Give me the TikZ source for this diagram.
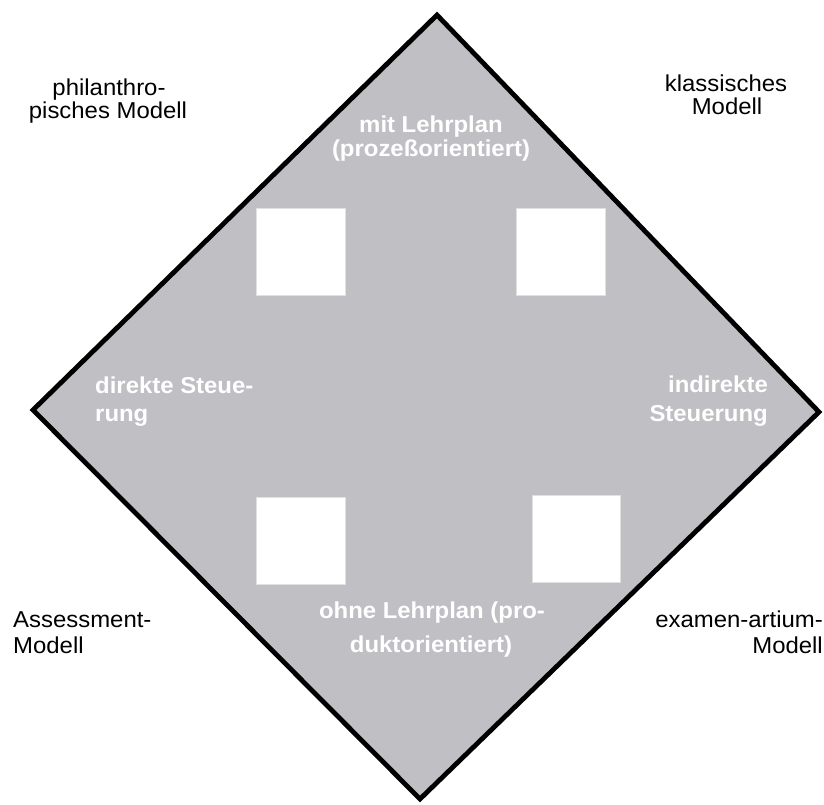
\documentclass[tikz,border=0pt]{standalone}
\usepackage{fontspec}
\setmainfont{Liberation Sans}[FakeStretch=1.04]
\definecolor{dgray}{RGB}{192,191,196}
\begin{document}
\begin{tikzpicture}[x=1pt,y=-1pt,
  lbl/.style={inner sep=0pt,font=\fontsize{23}{26}\selectfont,text=black},
  wlbl/.style={inner sep=0pt,font=\fontsize{23}{26}\selectfont\bfseries,text=white},
  sq/.style={fill=white,draw=white!88!black,line width=0.6pt}]
\useasboundingbox (0,0) rectangle (824,805);
% diamond
\coordinate (T) at (437,15);
\coordinate (L) at (33,410);
\coordinate (R) at (819,412);
\coordinate (B) at (420,799);
\draw[fill=dgray,line width=4.8pt,line join=miter] (T) -- (R) -- (B) -- (L) -- cycle;
% white squares
\node[sq,minimum width=89pt,minimum height=87pt,inner sep=0pt] (s1) at (300.5,251.5) {};
\node[sq,minimum width=89pt,minimum height=87pt,inner sep=0pt] (s2) at (560.5,251.5) {};
\node[sq,minimum width=89pt,minimum height=87pt,inner sep=0pt] (s3) at (300.5,540.5) {};
\node[sq,minimum width=88pt,minimum height=87pt,inner sep=0pt] (s4) at (576,538.5) {};
% outer labels
\node[lbl,anchor=base] (ph1) at (109,96) {philanthro-};
\node[lbl,anchor=base] (ph2) at (108,119) {pisches Modell};
\node[lbl,anchor=base] (kl1) at (726,92) {klassisches};
\node[lbl,anchor=base] (kl2) at (727,115) {Modell};
\node[lbl,anchor=base west] (as1) at (13,627) {Assessment-};
\node[lbl,anchor=base west] (as2) at (13,653) {Modell};
\node[lbl,anchor=base east] (ex1) at (823,627) {examen-artium-};
\node[lbl,anchor=base east] (ex2) at (823,653) {Modell};
% inner labels
\node[wlbl,anchor=base] (mi1) at (431,133) {mit Lehrplan};
\node[wlbl,anchor=base] (mi2) at (431,157) {(prozeßorientiert)};
\node[wlbl,anchor=base west] (di1) at (95,393) {direkte Steue-};
\node[wlbl,anchor=base west] (di2) at (95,421) {rung};
\node[wlbl,anchor=base east] (in1) at (768,392) {indirekte};
\node[wlbl,anchor=base east] (in2) at (768,421) {Steuerung};
\node[wlbl,anchor=base] (oh1) at (432,618) {ohne Lehrplan (pro-};
\node[wlbl,anchor=base] (oh2) at (431,652) {duktorientiert)};
\end{tikzpicture}
\end{document}
